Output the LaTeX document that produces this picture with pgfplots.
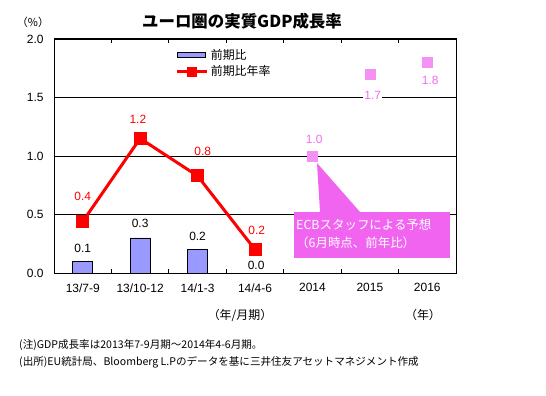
\documentclass[border=0pt]{standalone}
\usepackage{fontspec}
\setmainfont{Liberation Sans}
\newfontfamily\jp{Noto Sans CJK JP}
\usepackage{pgfplots}
\pgfplotsset{compat=1.18}
\definecolor{barblue}{RGB}{153,153,255}
\definecolor{fcpink}{RGB}{245,145,245}
\definecolor{calloutpink}{RGB}{240,100,240}
\definecolor{labpink}{RGB}{240,110,240}
\pgfplotsset{
  barlegend/.style={legend image code/.code={\draw[##1,line width=0.8bp] (0bp,-2.5bp) rectangle (28bp,2.5bp);}},
  linelegend/.style={legend image code/.code={\draw[##1,mark size=3.5bp,mark repeat=2,mark phase=2] plot coordinates {(0bp,0bp)(15bp,0bp)(30bp,0bp)};}},
}
\begin{document}
\begin{tikzpicture}[x=1bp,y=1bp]
\useasboundingbox (0,0) rectangle (546,395);
\begin{axis}[at={(54bp,122bp)}, anchor=south west, scale only axis,
  width=402bp, height=234bp,
  xmin=-0.5, xmax=6.5, ymin=0, ymax=2,
  xtick={0,...,6},
  xticklabels={13/7-9,13/10-12,14/1-3,14/4-6,2014,2015,2016},
  minor xtick={0.5,1.5,2.5,3.5,4.5,5.5},
  ytick={0,0.5,1,1.5,2},
  /pgf/number format/assume math mode=true,
  yticklabel style={/pgf/number format/.cd,fixed,fixed zerofill,precision=1, /tikz/xshift=-7bp},
  xticklabel style={yshift=-7bp},
  tick label style={font=\fontsize{12}{14}\selectfont},
  major tick length=0pt, minor tick length=4bp, tick align=inside,
  minor tick style={black, line width=0.8bp},
  ymajorgrids, grid style={black, line width=0.8bp},
  axis line style={line width=1bp},
  legend style={at={(0.30,0.97)}, anchor=north west, draw=none, fill=none,
    font=\jp\fontsize{12}{14}\selectfont, row sep=1bp, inner sep=1bp},
  legend cell align=left,
]
\addplot[ybar, bar width=20bp, fill=barblue, draw=black, line width=0.8bp, barlegend]
  coordinates {(0,0.1)(1,0.3)(2,0.2)(3,0.0)};
\addlegendentry{前期比}
\addplot[red, line width=3bp, mark=square*, mark size=5bp, linelegend]
  coordinates {(0,0.44)(1,1.15)(2,0.83)(3,0.2)};
\addlegendentry{前期比年率}
\addplot[only marks, mark=square*, mark size=5bp, fcpink, mark options={draw=fcpink, fill=fcpink}, forget plot]
  coordinates {(4,1.0)(5,1.7)(6,1.8)};
% bar labels
\node[font=\fontsize{12}{14}\selectfont] at (axis cs:0,0.214) {0.1};
\node[font=\fontsize{12}{14}\selectfont, fill=white, inner sep=1bp] at (axis cs:1,0.427) {0.3};
\node[font=\fontsize{12}{14}\selectfont] at (axis cs:2,0.316) {0.2};
\node[font=\fontsize{12}{14}\selectfont] at (axis cs:3.02,0.068) {0.0};
% line labels
\node[red, font=\fontsize{12}{14}\selectfont] at (axis cs:0,0.658) {0.4};
\node[red, font=\fontsize{12}{14}\selectfont] at (axis cs:0.96,1.316) {1.2};
\node[red, font=\fontsize{12}{14}\selectfont] at (axis cs:2.09,1.043) {0.8};
\node[red, font=\fontsize{12}{14}\selectfont] at (axis cs:3.03,0.36) {0.2};
% forecast labels
\node[labpink, font=\fontsize{12}{14}\selectfont] at (axis cs:4.03,1.145) {1.0};
\node[labpink, font=\fontsize{12}{14}\selectfont, fill=white, inner sep=1bp] at (axis cs:5.05,1.52) {1.7};
\node[labpink, font=\fontsize{12}{14}\selectfont] at (axis cs:6.05,1.65) {1.8};
\end{axis}
% callout
\fill[calloutpink] (317,232) -- (320,183) -- (360,183) -- cycle;
\fill[calloutpink] (294,137) rectangle (450,183);
\node[anchor=west, white, align=left, font=\jp\fontsize{12.5}{17.5}\selectfont, inner sep=0pt] at (296,161)
  {ECBスタッフによる予想\\（6月時点、前年比）};
% titles
\node[font=\jp\bfseries\fontsize{16.5}{18}\selectfont] at (242,374) {ユーロ圏の実質GDP成長率};
\node[font=\jp\fontsize{11}{13}\selectfont] at (33,373) {（\%）};
\node[font=\jp\fontsize{12}{14}\selectfont] at (240,80) {（年/月期）};
\node[font=\jp\fontsize{12}{14}\selectfont] at (423,80) {（年）};
\node[anchor=west, font=\jp\fontsize{10.6}{12}\selectfont, inner sep=0pt] at (19,50) {(注)GDP成長率は2013年7-9月期～2014年4-6月期。};
\node[anchor=west, font=\jp\fontsize{10.6}{12}\selectfont, inner sep=0pt] at (19,33) {(出所)EU統計局、Bloomberg L.Pのデータを基に三井住友アセットマネジメント作成};
\end{tikzpicture}
\end{document}
